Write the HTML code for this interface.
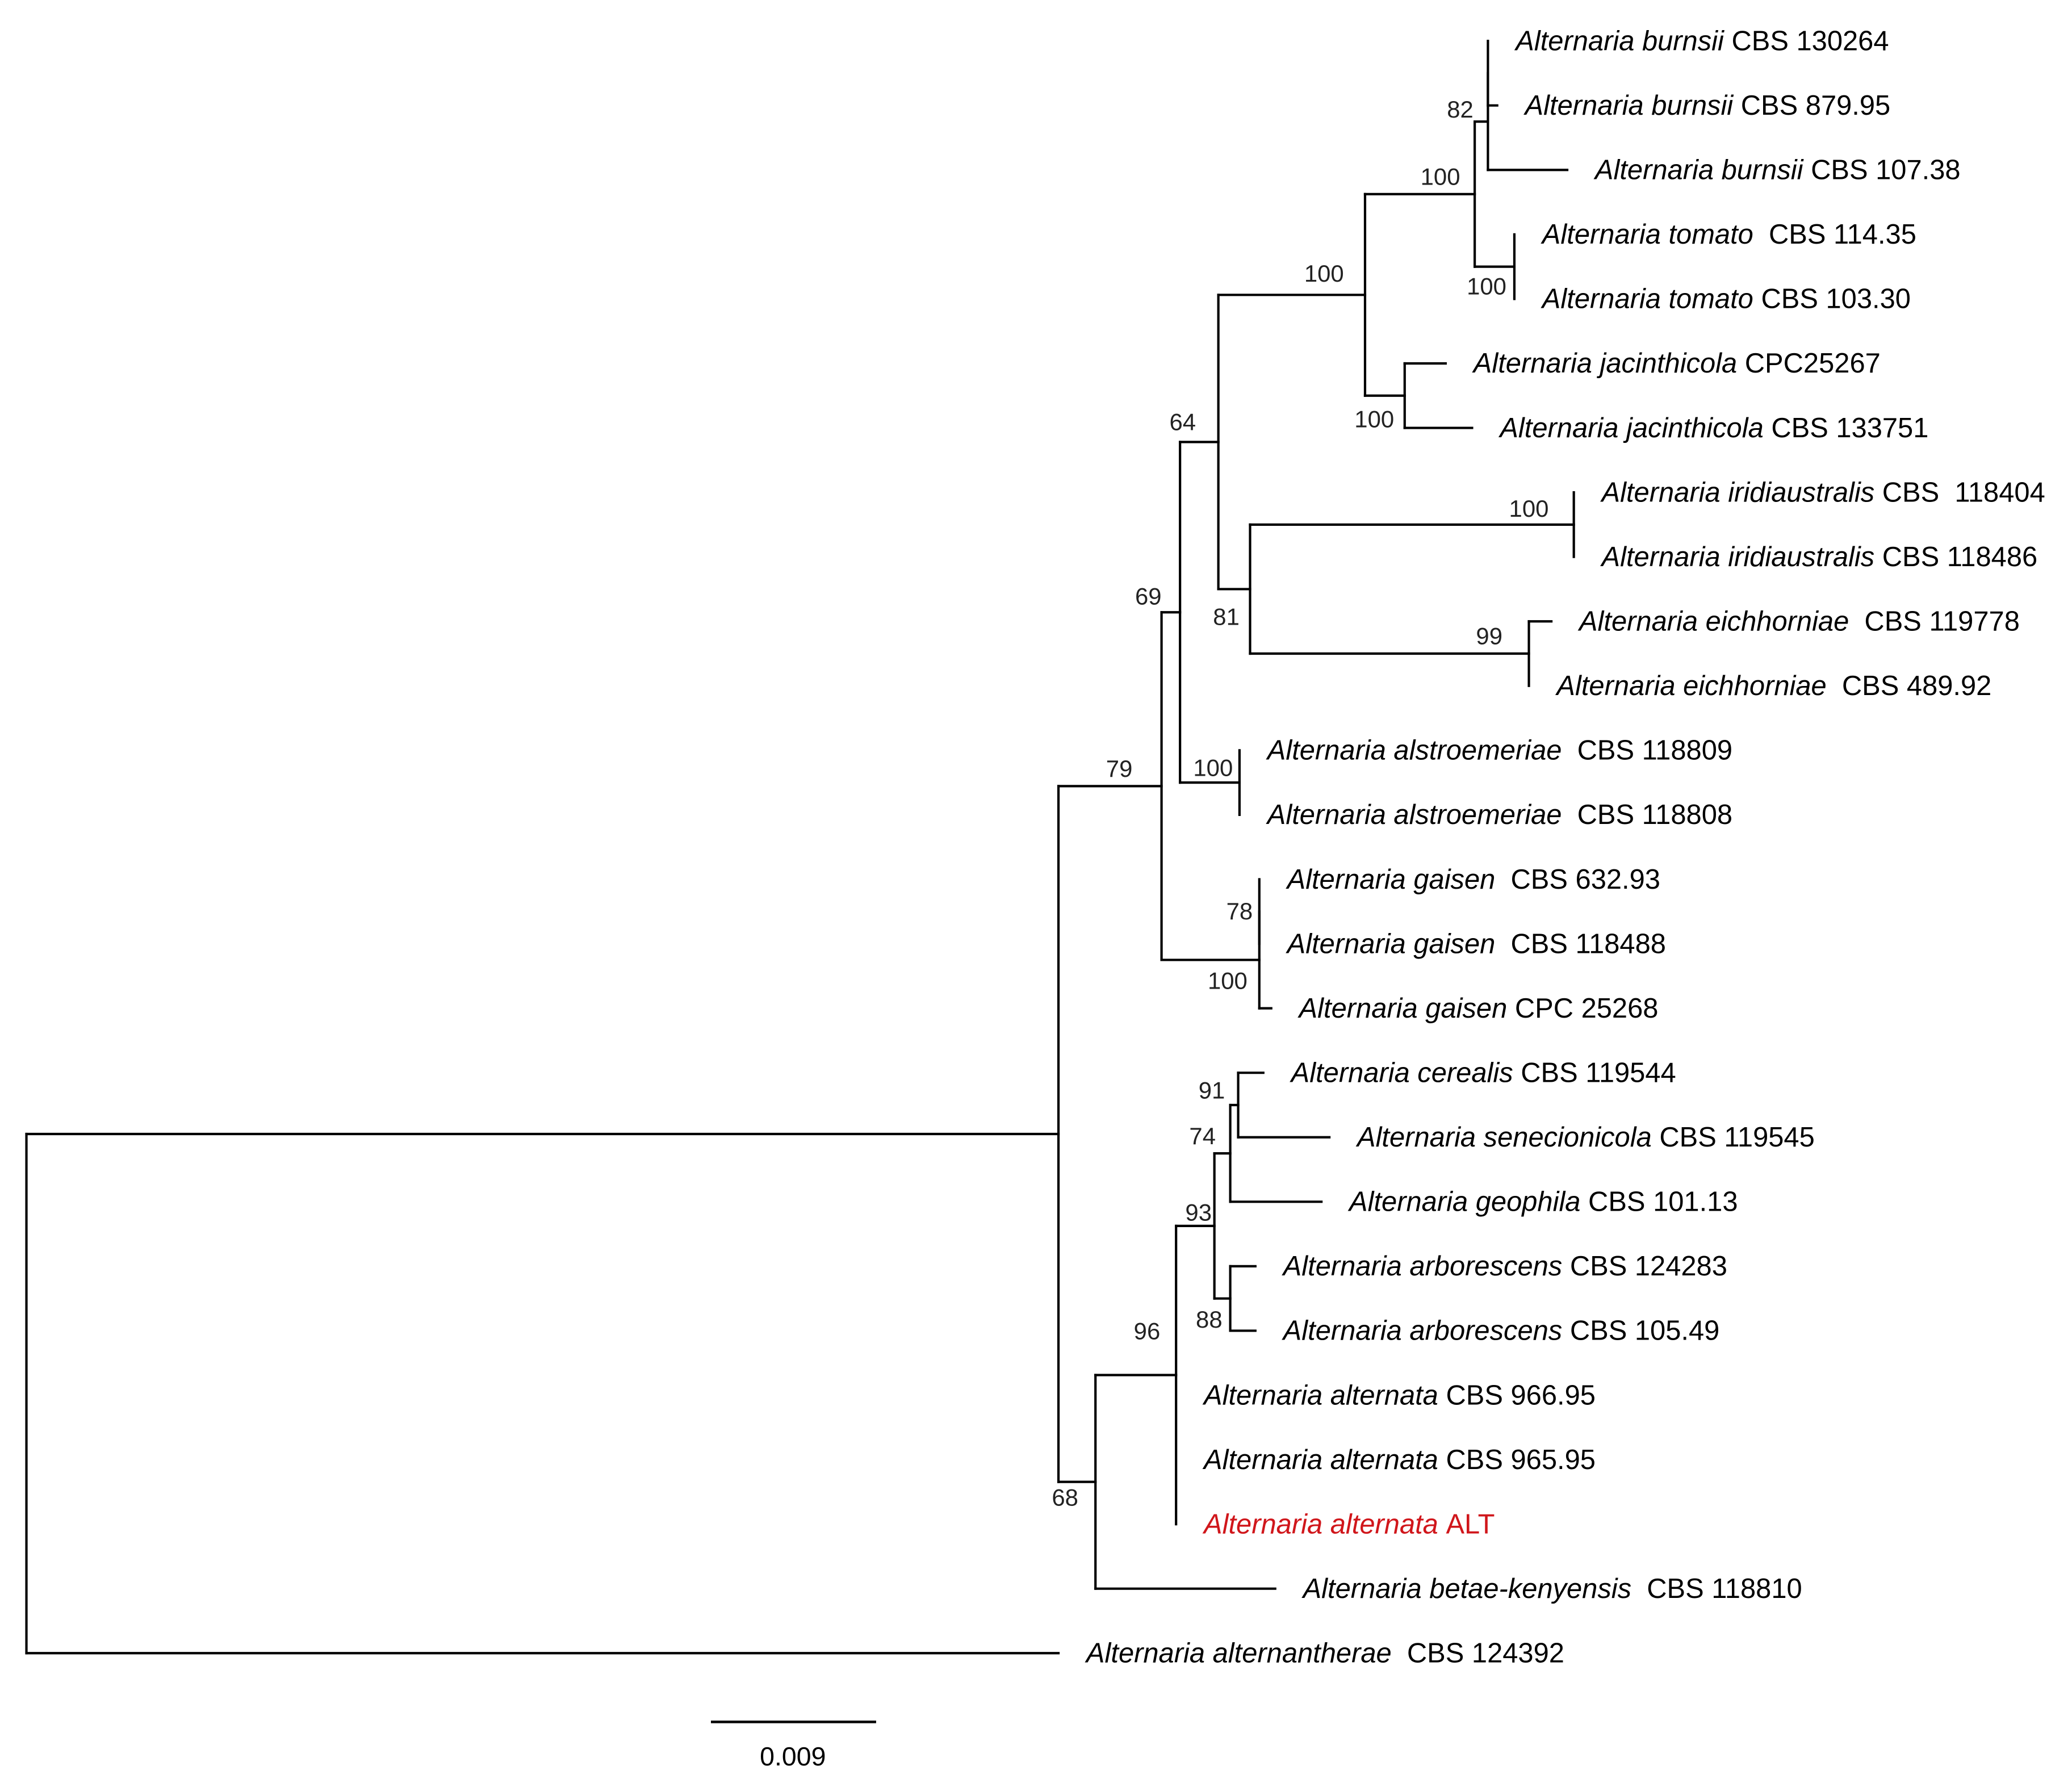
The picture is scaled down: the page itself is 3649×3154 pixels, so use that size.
<!DOCTYPE html>
<html><head><meta charset="utf-8"><style>
html,body{margin:0;padding:0;background:#fff;}
svg{display:block;}
</style></head><body>
<svg id="chart" xmlns="http://www.w3.org/2000/svg" width="3649" height="3154" viewBox="0 0 1568 1355.3" preserveAspectRatio="none">
<rect width="1568" height="1355.3" fill="#fff"/>
<g id="branches" stroke="#000" stroke-width="1.8" fill="none" stroke-linecap="square"></g>
<g id="labels" font-family="'Liberation Sans', sans-serif" font-size="21"></g>
<g id="support" font-family="'Liberation Sans', sans-serif" font-size="18" fill="#222"></g>
<g>
<line x1="538" y1="1303" x2="663" y2="1303" stroke="#000" stroke-width="2"/>
<text x="600" y="1336" text-anchor="middle" font-family="'Liberation Sans', sans-serif" font-size="20">0.009</text>
</g>
</svg>
<script>
const tipSpecies = ["Alternaria burnsii","Alternaria burnsii","Alternaria burnsii","Alternaria tomato","Alternaria tomato","Alternaria jacinthicola","Alternaria jacinthicola","Alternaria iridiaustralis","Alternaria iridiaustralis","Alternaria eichhorniae","Alternaria eichhorniae","Alternaria alstroemeriae","Alternaria alstroemeriae","Alternaria gaisen","Alternaria gaisen","Alternaria gaisen","Alternaria cerealis","Alternaria senecionicola","Alternaria geophila","Alternaria arborescens","Alternaria arborescens","Alternaria alternata","Alternaria alternata","Alternaria alternata","Alternaria betae-kenyensis","Alternaria alternantherae"];
const tipCodes = ["CBS 130264","CBS 879.95","CBS 107.38","\u00a0CBS 114.35","CBS 103.30","CPC25267","CBS 133751","CBS \u00a0118404","CBS 118486","\u00a0CBS 119778","\u00a0CBS 489.92","\u00a0CBS 118809","\u00a0CBS 118808","\u00a0CBS 632.93","\u00a0CBS 118488","CPC 25268","CBS 119544","CBS 119545","CBS 101.13","CBS 124283","CBS 105.49","CBS 966.95","CBS 965.95","ALT","\u00a0CBS 118810","\u00a0CBS 124392"];
const tipX = [1126,1133,1186,1146,1146,1094,1114,1191,1191,1174,1157,938,938,953,953,962,956,1006,1000,950,950,890,890,890,965,801];
const highlightTip = 23;
const nodeX = [1126,1126,1146,1116,1063,1033,1191,1157,946,922,938,893,953,953,879,937,931,931,919,890,829,801,20];
const nodeChildren = [["t0","t1"],["n0","t2"],["t3","t4"],["n1","n2"],["t5","t6"],["n3","n4"],["t7","t8"],["t9","t10"],["n6","n7"],["n5","n8"],["t11","t12"],["n9","n10"],["t13","t14"],["n12","t15"],["n11","n13"],["t16","t17"],["n15","t18"],["t19","t20"],["n16","n17"],["n18","t21","t22","t23"],["n19","t24"],["n14","n20"],["n21","t25"]];
const nodeSupport = ["","82","100","100","100","100","100","99","81","64","100","69","78","100","79","91","74","88","93","96","68","",""];
const labelDx = [0,-11,-6,-11,-8,-16,-19,-20,-8,-17,-5,-14,-5,-9,-22,-10,-11,-6,-2,-12,-13,0,0];
const labelDy = [0,-3,21,-7,24,-10,-6,-7,27,-9,-5,-6,6,22,-7,-5,-7,22,-4,-27,18,0,0];

const rowTop = 31, rowStep = 48.8;
const NS = "http://www.w3.org/2000/svg";
const gB = document.getElementById('branches');
const gL = document.getElementById('labels');
const gS = document.getElementById('support');
const tipY = tipX.map((_, i) => rowTop + i * rowStep);
const nodeY = [];
function getX(id){ return id[0]==='t' ? tipX[+id.slice(1)] : nodeX[+id.slice(1)]; }
function getY(id){ return id[0]==='t' ? tipY[+id.slice(1)] : nodeY[+id.slice(1)]; }
nodeChildren.forEach((ch, i) => { nodeY[i] = (getY(ch[0]) + getY(ch[ch.length-1])) / 2; });
function line(x1,y1,x2,y2,name){
  const l = document.createElementNS(NS,'line');
  l.setAttribute('x1',x1); l.setAttribute('y1',y1); l.setAttribute('x2',x2); l.setAttribute('y2',y2);
  
  
  gB.appendChild(l);
}
nodeChildren.forEach((ch, i) => {
  const x = nodeX[i];
  line(x, getY(ch[0]), x, getY(ch[ch.length-1]), 'node-' + i + '-vertical');
  ch.forEach(c => { if (getX(c) > x) line(x, getY(c), getX(c), getY(c), 'branch-' + c); });
  if (nodeSupport[i]) {
    const t = document.createElementNS(NS,'text');
    t.setAttribute('x', x + labelDx[i]); t.setAttribute('y', nodeY[i] + labelDy[i]);
    t.setAttribute('text-anchor','end');
    t.textContent = nodeSupport[i];
    
    
    gS.appendChild(t);
  }
});
tipSpecies.forEach((sp, i) => {
  const t = document.createElementNS(NS,'text');
  t.setAttribute('x', tipX[i] + 21); t.setAttribute('y', tipY[i] + 7);
  if (i === highlightTip) t.setAttribute('fill', '#d0161b');
  const s = document.createElementNS(NS,'tspan');
  s.setAttribute('font-style','italic');
  s.textContent = sp + ' ';
  t.appendChild(s);
  t.appendChild(document.createTextNode(tipCodes[i]));
  
  
  gL.appendChild(t);
});
</script>
</body></html>
